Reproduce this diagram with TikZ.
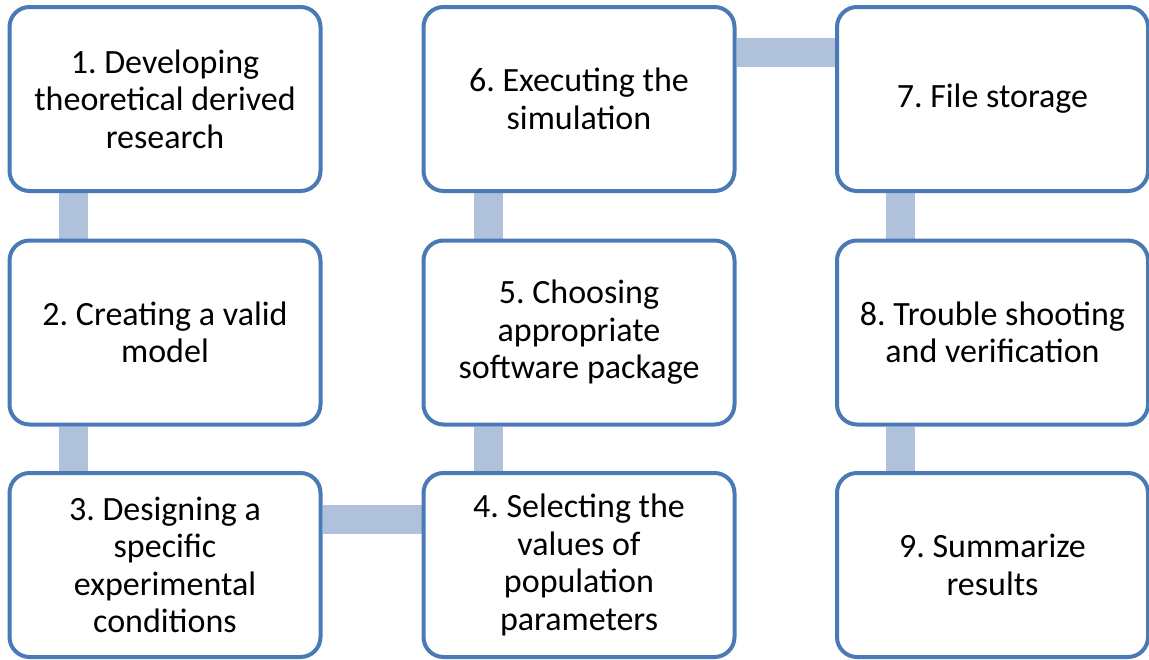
\documentclass[tikz,border=0pt]{standalone}
\usepackage{fontspec}
\setmainfont{Carlito}
\usetikzlibrary{backgrounds}
\definecolor{boxline}{HTML}{4A7AB5}
\definecolor{connfill}{HTML}{B0C1DC}
\frenchspacing
\begin{document}
\begin{tikzpicture}[x=1pt,y=-1pt,
  stepbox/.style={draw=boxline, line width=4pt, fill=white, rounded corners=20pt,
    minimum width=311pt, minimum height=184pt, align=center, inner sep=0pt,
    font=\fontsize{34}{37.5}\selectfont},
  conn/.style={draw=connfill, line width=29pt}]
\useasboundingbox (0,0) rectangle (1149,659);
% nodes
\node[stepbox] (n1) at (165,99) {1. Developing\\theoretical derived\\research};
\node[stepbox] (n2) at (165,332.5) {2. Creating a valid\\model};
\node[stepbox] (n3) at (165,565) {3. Designing a\\specific\\experimental\\conditions};
\node[stepbox] (n4) at (579,565) {4. Selecting the\\values of\\population\\parameters};
\node[stepbox] (n5) at (579,332.5) {5. Choosing\\appropriate\\software package};
\node[stepbox] (n6) at (579,99) {6. Executing the\\simulation};
\node[stepbox] (n7) at (992.5,99) {7. File storage};
\node[stepbox] (n8) at (992.5,332.5) {8. Trouble shooting\\and verification};
\node[stepbox] (n9) at (992.5,565) {9. Summarize\\results};
% connectors behind the boxes
\begin{pgfonlayer}{background}
\draw[conn] ([xshift=-92pt]n1.south) -- ([xshift=-92pt]n2.north);
\draw[conn] ([xshift=-92pt]n2.south) -- ([xshift=-92pt]n3.north);
\draw[conn] ([yshift=46pt]n3.east) -- ([yshift=46pt]n4.west);
\draw[conn] ([xshift=-91pt]n4.north) -- ([xshift=-91pt]n5.south);
\draw[conn] ([xshift=-91pt]n5.north) -- ([xshift=-91pt]n6.south);
\draw[conn] ([yshift=47pt]n6.east) -- ([yshift=47pt]n7.west);
\draw[conn] ([xshift=-92pt]n7.south) -- ([xshift=-92pt]n8.north);
\draw[conn] ([xshift=-92pt]n8.south) -- ([xshift=-92pt]n9.north);
\end{pgfonlayer}
\end{tikzpicture}
\end{document}
